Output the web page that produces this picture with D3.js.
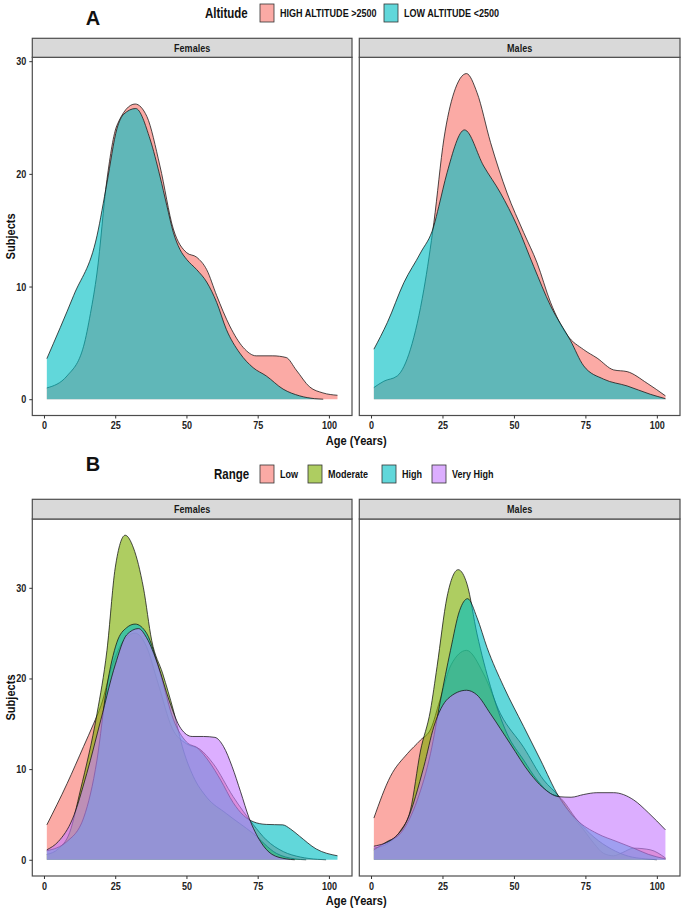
<!DOCTYPE html>
<html><head><meta charset="utf-8">
<script src="https://cdn.jsdelivr.net/npm/d3@7/dist/d3.min.js"></script>
<style>
body{margin:0;background:#fff}
text{font-family:"Liberation Sans",Arial,sans-serif;font-weight:bold}
</style>
</head><body><svg id="chart" width="685" height="908"></svg>
<script>
// ---------------- DATA ----------------
const FACETS = ["Females", "Males"];
const ALT_GROUPS = ["HIGH ALTITUDE >2500", "LOW ALTITUDE <2500"];
const ALT_COLORS = ["#F8766D", "#00BFC4"];
const RANGE_GROUPS = ["Low", "Moderate", "High", "Very High"];
const RANGE_COLORS = ["#F8766D", "#7CAE00", "#00BFC4", "#C77CFF"];
const X_TICKS = [0, 25, 50, 75, 100];
const Y_TICKS = [0, 10, 20, 30];

// [age, subjects] density estimates, panel A
const altFemHigh = [[1,1.0],[8.1,2.07],[13.9,4.7],[16.3,7.6],[18.6,11.2],[22.1,19.5],[25.6,24.3],[32,26.2],[36.1,25.1],[40.7,20.7],[45.4,15.1],[50.1,13.0],[53.6,12.6],[57.1,11.5],[60.6,9.2],[65.2,6.5],[69.9,4.6],[74.5,3.85],[80.3,3.85],[85,3.7],[88.5,2.6],[93.2,1.1],[97.9,0.56],[103,0.35]];
const altFemLow  = [[1,3.6],[10.4,9.2],[18.6,14.5],[22.1,19.2],[25.6,24.0],[28,25.3],[32.2,25.8],[37.2,23.1],[40.7,19.8],[43.1,17.2],[45.4,14.8],[47.7,13.3],[50.1,12.4],[53.6,11.5],[57.1,10.4],[60.6,8.6],[64,6.2],[68.7,4.1],[73.4,2.8],[78,2.07],[83.9,0.9],[89.7,0.3],[95,0.05],[98,0]];
const altMalHigh = [[1,1.04],[4.5,1.6],[9.2,2.07],[13.8,4.44],[18.5,9.76],[22,15.7],[25.5,23.1],[29,27.2],[33.4,28.9],[37.1,27.2],[41.8,22.8],[47.6,18.3],[53.4,14.8],[58.1,12.1],[62.8,8.6],[68.6,5.7],[74.4,4.4],[79.1,3.65],[84.9,2.6],[89.6,2.45],[96.6,1.42],[103,0.3]];
const altMalLow  = [[1,4.44],[5.7,6.8],[11.5,10.35],[17.3,12.98],[22,15.4],[23.7,17.1],[26.6,20.1],[32.7,23.9],[39.4,20.7],[45.3,18.3],[51.1,15.4],[56.9,11.8],[62.8,8.3],[69.8,5.2],[74.4,2.96],[81.4,1.78],[89.6,1.18],[97.7,0.44],[103,0.05]];

// panel B
const rngFemLow  = [[1,3.85],[8.1,8.4],[13.9,12.5],[17.4,15.0],[20,17.0],[24,21.5],[28,24.2],[32,25.0],[36,23.5],[40,19.5],[45,14.5],[50,12.8],[54.7,12.2],[59.4,10.6],[66.4,6.96],[73.4,3.9],[78,2.2],[84,0.9],[90,0.3],[96,0.05],[99,0]];
const rngFemMod  = [[1,0.6],[5,1.2],[9,3.0],[12.8,7.7],[18.6,16.1],[22.1,23.1],[25,32.2],[28.5,35.8],[31.4,34.4],[34.9,30.0],[37.8,24.2],[41.7,20.5],[45.4,16.5],[49,12.0],[52.4,9.2],[57.1,6.9],[64,5.1],[73.4,2.9],[81.6,0.7],[88,0.1],[92,0]];
const rngFemHigh = [[1,1.0],[8,2.0],[14,4.7],[18.6,11.0],[22,19.0],[25.6,24.0],[29,25.6],[32,26.0],[36,25.0],[40.7,20.7],[45.4,15.5],[50,13.0],[54,12.3],[58,10.8],[62,8.8],[66.4,6.3],[70,4.9],[73.4,4.2],[78,3.9],[83.8,3.85],[86.5,3.4],[89.7,2.6],[95.5,1.2],[103,0.44]];
const rngFemVH   = [[1,1.1],[5,2.0],[10,4.5],[15,9.5],[20,15.5],[25,21.5],[29,24.8],[33.2,25.5],[36,24.5],[40,21.5],[44,17.5],[48,14.5],[52,13.6],[56,13.6],[60,13.5],[63,12.5],[66,10.3],[69,7.5],[72,4.6],[76,2.0],[80,0.6],[85,0.1],[88,0]];
const rngMalLow  = [[1,4.6],[6.8,9.2],[12.7,11.7],[17.3,13.2],[21,14.5],[24,17.5],[28,21.5],[33.4,23.1],[39.4,20.5],[45.3,16.1],[53.4,12.4],[60.4,8.8],[65.7,7.0],[70,5.0],[74.4,3.3],[78,1.8],[81.4,0.7],[84.9,0.44],[88,0.8],[91.9,1.28],[97.7,1.1],[103,0.2]];
const rngMalMod  = [[1,1.28],[6.8,2.0],[10.3,3.2],[13.8,5.5],[17.3,12.0],[20.8,16.5],[23.1,21.3],[26.6,29.0],[30.5,32.0],[33.6,30.4],[37.1,24.9],[41.8,19.1],[47.6,13.9],[53.4,11.0],[58.1,8.8],[62.8,7.3],[65.7,6.96],[72.1,4.4],[78,2.5],[84,1.2],[90,0.4],[96,0.1],[100,0]];
const rngMalHigh = [[1,1.1],[5.6,2.0],[10.3,2.9],[16.2,6.6],[20.8,11.7],[24.3,17.6],[27.8,23.1],[31,27.5],[33.8,28.8],[37.1,26.7],[40.6,23.4],[46.4,19.1],[53.4,14.7],[59.3,11.0],[65.7,6.96],[72,4.4],[79.1,2.9],[86.1,2.0],[91.9,1.28],[97,0.6],[103,0.1]];
const rngMalVH   = [[1,1.5],[8,2.4],[12.7,4.4],[18.5,10.3],[22,14.7],[27,17.8],[33.4,18.7],[37,18.2],[41.8,16.1],[48.7,12.8],[55.7,9.5],[60,8.0],[65.7,6.96],[70,6.9],[74.4,7.2],[79,7.4],[84.9,7.4],[91.9,6.6],[97,5.2],[103,3.3]];

const ROW_A = {Females: [altFemHigh, altFemLow], Males: [altMalHigh, altMalLow]};
const ROW_B = {Females: [rngFemLow, rngFemMod, rngFemHigh, rngFemVH], Males: [rngMalLow, rngMalMod, rngMalHigh, rngMalVH]};

// ---------------- LAYOUT ----------------
const svg = d3.select("#chart");
const COLS = [[32.3, 352], [359.3, 680]];
const FILL_OPACITY = 0.62;

const allSeries = [...Object.values(ROW_A).flat(), ...Object.values(ROW_B).flat()];
const xExt = d3.extent(allSeries.flat(), d => d[0]);
const xPad = (xExt[1] - xExt[0]) * 0.05;

function drawRow(rowData, colors, stripTop, stripBottom, panelBottom) {
  const maxY = d3.max(Object.values(rowData).flat().flat(), d => d[1]);
  const y = d3.scaleLinear().domain([-0.05 * maxY, 1.05 * maxY]).range([panelBottom, stripBottom]);
  FACETS.forEach((facet, fi) => {
    const [x0, x1] = COLS[fi];
    const x = d3.scaleLinear().domain([xExt[0] - xPad, xExt[1] + xPad]).range([x0, x1]);
    const g = svg.append("g");
    g.append("rect").attr("x", x0).attr("y", stripBottom).attr("width", x1 - x0).attr("height", panelBottom - stripBottom)
      .attr("fill", "#fff");
    const area = d3.area().x(d => x(d[0])).y0(y(0)).y1(d => y(d[1])).curve(d3.curveMonotoneX);
    const line = d3.line().x(d => x(d[0])).y(d => y(d[1])).curve(d3.curveMonotoneX);
    rowData[facet].forEach((series, si) => {
      g.append("path").attr("d", area(series)).attr("fill", colors[si]).attr("fill-opacity", FILL_OPACITY);
      g.append("path").attr("d", line(series)).attr("fill", "none").attr("stroke", "#111").attr("stroke-width", 0.75);
    });
    g.append("rect").attr("x", x0).attr("y", stripBottom).attr("width", x1 - x0).attr("height", panelBottom - stripBottom)
      .attr("fill", "none").attr("stroke", "#4d4d4d").attr("stroke-width", 1.2);
    g.append("rect").attr("x", x0).attr("y", stripTop).attr("width", x1 - x0).attr("height", stripBottom - stripTop)
      .attr("fill", "#D9D9D9").attr("stroke", "#4d4d4d").attr("stroke-width", 1.2);
    g.append("text").attr("x", (x0 + x1) / 2).attr("y", (stripTop + stripBottom) / 2 + 4)
      .attr("text-anchor", "middle").attr("font-size", 11).attr("fill", "#1a1a1a").attr("class", "nar").text(facet);
    const xa = svg.append("g").attr("transform", `translate(0,${panelBottom})`)
      .call(d3.axisBottom(x).tickValues(X_TICKS).tickSize(3).tickPadding(3).tickFormat(d3.format("d")));
    xa.select(".domain").remove();
    xa.selectAll("line").attr("stroke", "#333");
    xa.selectAll("text").attr("font-size", 11).attr("fill", "#222").attr("class", "nar")
      .style("font-family", "'Liberation Sans',Arial,sans-serif").style("font-weight", "bold");
    if (fi === 0) {
      const ya = svg.append("g").attr("transform", `translate(${x0},0)`)
        .call(d3.axisLeft(y).tickValues(Y_TICKS).tickSize(3).tickPadding(3));
      ya.select(".domain").remove();
      ya.selectAll("line").attr("stroke", "#333");
      ya.selectAll("text").attr("font-size", 11).attr("fill", "#222").attr("class", "nar")
        .style("font-family", "'Liberation Sans',Arial,sans-serif").style("font-weight", "bold");
    }
  });
  svg.append("text").attr("transform", `translate(15,${(stripBottom + panelBottom) / 2}) rotate(-90)`)
    .attr("text-anchor", "middle").attr("font-size", 13.5).attr("fill", "#111").attr("class", "nar").text("Subjects");
  svg.append("text").attr("x", (COLS[0][0] + COLS[1][1]) / 2).attr("y", panelBottom + 29)
    .attr("text-anchor", "middle").attr("font-size", 13.5).attr("fill", "#111").attr("class", "nar").text("Age (Years)");
}

drawRow(ROW_A, ALT_COLORS, 38.3, 57.3, 415.5);
drawRow(ROW_B, RANGE_COLORS, 499.3, 519, 876);

// ---------------- LEGENDS ----------------
function legend(title, titleX, labels, colors, keyXs, cy) {
  svg.append("text").attr("x", titleX).attr("y", cy + 5).attr("font-size", 14).attr("fill", "#111").attr("class", "nar").text(title);
  labels.forEach((lab, i) => {
    svg.append("rect").attr("x", keyXs[i]).attr("y", cy - 9).attr("width", 14).attr("height", 18).attr("fill", "#fff");
    svg.append("rect").attr("x", keyXs[i]).attr("y", cy - 9).attr("width", 14).attr("height", 18)
      .attr("fill", colors[i]).attr("fill-opacity", FILL_OPACITY).attr("stroke", "#333").attr("stroke-width", 0.8);
    svg.append("text").attr("x", keyXs[i] + 20).attr("y", cy + 4).attr("font-size", 11).attr("fill", "#111").attr("class", "nar").text(lab);
  });
}
legend("Altitude", 205, ALT_GROUPS, ALT_COLORS, [260, 384], 13);
legend("Range", 214, RANGE_GROUPS, RANGE_COLORS, [260, 308, 382, 432], 474);

svg.append("text").attr("x", 93).attr("y", 25).attr("text-anchor", "middle").attr("font-size", 20).attr("fill", "#111").text("A");
svg.append("text").attr("x", 93).attr("y", 471).attr("text-anchor", "middle").attr("font-size", 20).attr("fill", "#111").text("B");

// condensed look (Arial Narrow-like): compress glyph widths
svg.selectAll("text.nar").each(function() {
  const L = this.getComputedTextLength();
  d3.select(this).attr("textLength", (L * 0.82).toFixed(2)).attr("lengthAdjust", "spacingAndGlyphs");
});
</script>
</body></html>
